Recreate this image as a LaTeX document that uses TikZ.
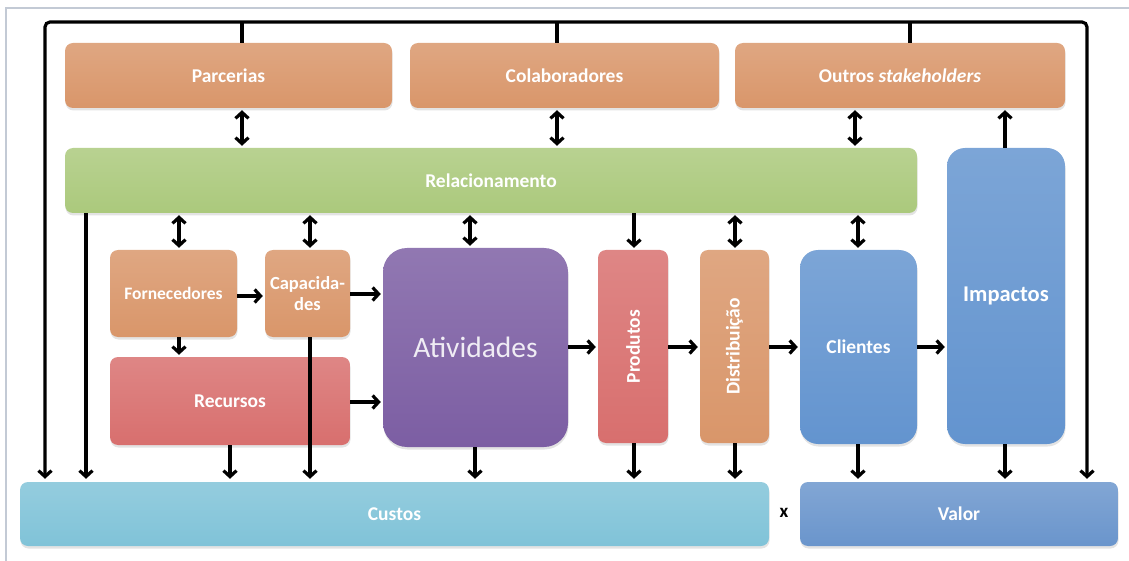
\documentclass[tikz,border=0pt]{standalone}
\usepackage{fontspec}
\setmainfont{Carlito}
\usetikzlibrary{arrows.meta,shadows}
\definecolor{orng}{HTML}{D9966A}
\definecolor{grn}{HTML}{ABC97C}
\definecolor{rd}{HTML}{D86F6E}
\definecolor{prp}{HTML}{7C5EA3}
\definecolor{blu}{HTML}{6394CF}
\definecolor{cyn}{HTML}{80C3D8}
\definecolor{vblu}{HTML}{6A95CC}
\definecolor{scr}{HTML}{C3CAD5}
\begin{document}
\begin{tikzpicture}[x=1pt,y=-1pt,
  box/.style={rounded corners=8pt, draw=none, text=white, inner sep=0pt, align=center,
    font=\fontsize{19.5}{21}\selectfont\bfseries,
    drop shadow={opacity=0.22,shadow xshift=0.5pt,shadow yshift=-2.5pt}},
  fc/.style={top color=#1!84!white, bottom color=#1},
  ln/.style={line width=3.2pt},
  arr/.style={line width=3.2pt,-{Straight Barb[length=6pt,width=13pt]}},
  darr/.style={line width=3.2pt,{Straight Barb[length=6pt,width=13pt]}-{Straight Barb[length=6pt,width=13pt]}, shorten <=2pt, shorten >=2pt}]
\useasboundingbox (0,0) rectangle (1129,561);
% screenshot border
\draw[scr, line width=1.5pt] (6,561) -- (6,8) -- (1129,8);

% boxes
\node[box, fc=orng, minimum width=327pt, minimum height=65pt] (Parcerias) at (228.5,75.5) {Parcerias};
\node[box, fc=orng, minimum width=309pt, minimum height=65pt] (Colaboradores) at (564.5,75.5) {Colaboradores};
\node[box, fc=orng, minimum width=330pt, minimum height=65pt] (Outros) at (900,75.5) {Outros \textit{stakeholders}};
\node[box, fc=grn, minimum width=852pt, minimum height=65pt] (Relacionamento) at (491,180.5) {Relacionamento};
\node[box, fc=blu, rounded corners=18pt, minimum width=118pt, minimum height=296pt, font=\fontsize{22.5}{24}\selectfont\bfseries] (Impactos) at (1006,296) {Impactos};
\node[box, fc=orng, minimum width=127pt, minimum height=87pt, font=\fontsize{17.5}{19}\selectfont\bfseries] (Fornecedores) at (173.5,293.5) {Fornecedores};
\node[box, fc=orng, minimum width=85pt, minimum height=87pt, font=\fontsize{18.5}{21}\selectfont\bfseries] (Capacidades) at (307.5,293.5) {Capacida-\\des};
\node[box, fc=rd, minimum width=240pt, minimum height=88pt] (Recursos) at (230,401) {Recursos};
\node[box, fc=prp, rounded corners=24pt, minimum width=185pt, minimum height=199pt, text={prp!12!white}, font=\fontsize{29.5}{31}\selectfont] (Atividades) at (475.5,347.5) {Atividades};
\node[box, fc=rd, minimum width=70pt, minimum height=193pt] (Produtos) at (633,346.5) {};
\node[rotate=90, text=white, font=\fontsize{19.5}{21}\selectfont\bfseries] (ProdutosL) at (Produtos.center) {Produtos};
\node[box, fc=orng, minimum width=69pt, minimum height=193pt] (Distribuicao) at (734.5,346.5) {};
\node[rotate=90, text=white, font=\fontsize{19.5}{21}\selectfont\bfseries] (DistribuicaoL) at (Distribuicao.center) {Distribuição};
\node[box, fc=blu, rounded corners=18pt, minimum width=117pt, minimum height=194pt] (Clientes) at (858.5,347) {Clientes};
\node[box, fc=cyn, minimum width=749pt, minimum height=64pt] (Custos) at (394.5,514) {Custos};
\node[box, fc=vblu, minimum width=318pt, minimum height=64pt] (Valor) at (959,514) {Valor};
\node[font=\fontsize{19}{20}\selectfont\bfseries] (x) at (784,513) {x};

% column / row coordinates
\foreach \c in {45,86,179,230,242,310,470,475,557,634,735,855,858,910,1005,1087}
  \coordinate (c\c) at (\c,0);
\foreach \r in {22,294,296,347,402}
  \coordinate (r\r) at (0,\r);

% outer frame
\draw[line width=3.2pt, rounded corners=5pt,
  {Straight Barb[length=6pt,width=13pt]}-{Straight Barb[length=6pt,width=13pt]}, shorten <=3pt, shorten >=3pt]
  (c45 |- Custos.north) -- (c45 |- r22) -- (c1087 |- r22) -- (c1087 |- Valor.north);
\draw[ln] (c242 |- r22) -- (c242 |- Parcerias.north);
\draw[ln] (c557 |- r22) -- (c557 |- Colaboradores.north);
\draw[ln] (c910 |- r22) -- (c910 |- Outros.north);

% top double arrows
\draw[darr] (c242 |- Parcerias.south) -- (c242 |- Relacionamento.north);
\draw[darr] (c557 |- Colaboradores.south) -- (c557 |- Relacionamento.north);
\draw[darr] (c855 |- Outros.south) -- (c855 |- Relacionamento.north);
\draw[arr, shorten >=2pt] (c1005 |- Impactos.north) -- (c1005 |- Outros.south);

% from Relacionamento
\draw[arr, shorten >=3pt] (c86 |- Relacionamento.south) -- (c86 |- Custos.north);
\draw[darr] (c179 |- Relacionamento.south) -- (c179 |- Fornecedores.north);
\draw[darr] (c310 |- Relacionamento.south) -- (c310 |- Capacidades.north);
\draw[darr] (c470 |- Relacionamento.south) -- (c470 |- Atividades.north);
\draw[arr, shorten >=2pt] (c634 |- Relacionamento.south) -- (c634 |- Produtos.north);
\draw[darr] (c735 |- Relacionamento.south) -- (c735 |- Distribuicao.north);
\draw[darr] (c858 |- Relacionamento.south) -- (c858 |- Clientes.north);

% left cluster
\draw[arr, shorten >=2pt] (r296 -| Fornecedores.east) -- (r296 -| Capacidades.west);
\draw[arr, shorten >=2pt] (r294 -| Capacidades.east) -- (r294 -| Atividades.west);
\draw[arr, shorten >=2pt] (c179 |- Fornecedores.south) -- (c179 |- Recursos.north);
\draw[arr, shorten >=2pt] (r402 -| Recursos.east) -- (r402 -| Atividades.west);

% main flow
\draw[arr, shorten >=2pt] (r347 -| Atividades.east) -- (r347 -| Produtos.west);
\draw[arr, shorten >=2pt] (r347 -| Produtos.east) -- (r347 -| Distribuicao.west);
\draw[arr, shorten >=2pt] (r347 -| Distribuicao.east) -- (r347 -| Clientes.west);
\draw[arr, shorten >=2pt] (r347 -| Clientes.east) -- (r347 -| Impactos.west);

% down to Custos / Valor
\draw[arr, shorten >=3pt] (c310 |- Capacidades.south) -- (c310 |- Custos.north);
\draw[arr, shorten >=3pt] (c230 |- Recursos.south) -- (c230 |- Custos.north);
\draw[arr, shorten >=3pt] (c475 |- Atividades.south) -- (c475 |- Custos.north);
\draw[arr, shorten >=3pt] (c634 |- Produtos.south) -- (c634 |- Custos.north);
\draw[arr, shorten >=3pt] (c735 |- Distribuicao.south) -- (c735 |- Custos.north);
\draw[arr, shorten >=3pt] (c858 |- Clientes.south) -- (c858 |- Valor.north);
\draw[arr, shorten >=3pt] (c1005 |- Impactos.south) -- (c1005 |- Valor.north);
\end{tikzpicture}
\end{document}
